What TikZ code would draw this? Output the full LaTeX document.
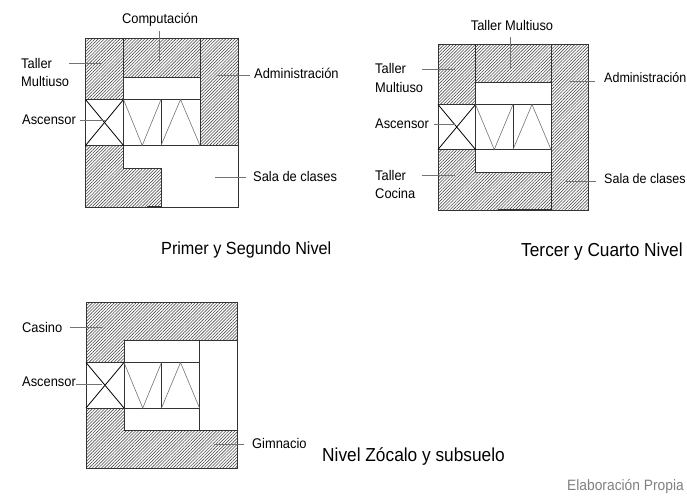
\documentclass[tikz,border=0pt]{standalone}
\usepackage{fontspec}
\setmainfont[FakeStretch=0.92]{Liberation Sans}
\usetikzlibrary{patterns.meta}
\tikzset{
  wall/.style={draw=black!80,line width=.9pt},
  hatched/.style={wall,pattern={Lines[angle=45,distance=2.2pt,line width=.6pt]},pattern color=black!70},
  ramp/.style={draw=black!55,line width=.6pt},
  cross/.style={draw=black,line width=.8pt},
  leader/.style={draw=black!55,line width=.8pt},
  lab/.style={inner sep=0pt,anchor=west,align=left,font=\fontsize{14}{18.5}\selectfont},
  labb/.style={lab,font=\fontsize{13.6}{18.5}\selectfont},
  labc/.style={inner sep=0pt,anchor=center,font=\fontsize{14}{14}\selectfont},
  captxt/.style={inner sep=0pt,anchor=west,font=\fontsize{17.6}{18}\selectfont},
  captxtb/.style={inner sep=0pt,anchor=west,font=\fontsize{18.8}{18}\selectfont},
  srctxt/.style={inner sep=0pt,anchor=east,text=black!50,font=\fontsize{15}{18}\selectfont},
}
\newcommand{\corebox}[6]{%
  \draw[wall] (#1,#5) rectangle (#4,#6);
  \draw[wall] (#2,#5) -- (#2,#6) (#3,#5) -- (#3,#6);
  \draw[cross] (#1,#5) -- (#2,#6) (#1,#6) -- (#2,#5);
  \draw[ramp] (#2,#5) -- ({(#2+#3)/2},#6) -- (#3,#5);
  \draw[ramp] (#3,#6) -- ({(#3+#4)/2},#5) -- (#4,#6);
}
\begin{document}
\begin{tikzpicture}[x=1pt,y=-1pt]
\useasboundingbox (0,0) rectangle (687,498);
% Primer y Segundo Nivel
\draw[wall,fill=white] (85.5,145.5) rectangle (238.5,207);
\draw[wall] (123.5,99.5) rectangle (200,77);
\path[hatched] (85.5,38.5) rectangle (123.5,99.5);
\path[hatched] (123.5,38.5) rectangle (200,77);
\path[hatched] (200,38.5) rectangle (238.5,145.5);
\path[hatched] (85.5,145.5) -- (123.5,145.5) -- (123.5,168.5) -- (161,168.5) -- (161,207) -- (85.5,207) -- cycle;
\draw[wall] (123.5,38.5) -- (123.5,99.5) (200,38.5) -- (200,145.5) (123.5,77) -- (200,77);
\corebox{85.5}{123.5}{161}{200}{99.5}{145.5}
\draw[line width=1.1pt,black!80] (147,207) -- (161,207);
\node[labc] (c1) at (160,19.5) {Computación};
\node[lab] (t1) at (21,72.5) {Taller\\Multiuso};
\node[lab] (ad1) at (254,73) {Administración};
\node[lab] (as1) at (22,120) {Ascensor};
\node[lab] (s1) at (253,176) {Sala de clases};
\coordinate (c1e) at (159,62);
\coordinate (t1s) at (69,63);
\coordinate (t1e) at (102,63);
\coordinate (ad1s) at (250,75.5);
\coordinate (ad1e) at (218,75.5);
\coordinate (as1e) at (105,120);
\coordinate (s1s) at (246,177);
\coordinate (s1e) at (215,177);
\draw[leader] (c1e |- c1.south) ++(0,5) -- (c1e);
\draw[leader] (t1s) -- (t1e);
\draw[leader] (ad1s) -- (ad1e);
\draw[leader] (as1.east) ++(4,0) -- (as1e);
\draw[leader] (s1s) -- (s1e);
\node[captxt] (n1) at (161,249.5) {Primer y Segundo Nivel};
% Tercer y Cuarto Nivel
\draw[wall] (475.5,104.5) rectangle (551,172);
\path[hatched] (438,44.5) rectangle (475.5,104.5);
\path[hatched] (475.5,44.5) rectangle (551,82);
\path[hatched] (551,44.5) rectangle (588,210);
\path[hatched] (438,149.5) -- (475.5,149.5) -- (475.5,172) -- (551,172) -- (551,210) -- (438,210) -- cycle;
\draw[wall] (475.5,44.5) -- (475.5,104.5) (551,44.5) -- (551,210) (475.5,82) -- (551,82) (475.5,149.5) -- (475.5,172) -- (551,172);
\corebox{438}{475.5}{513}{551}{104.5}{149.5}
\draw[line width=1.1pt,black!80] (498,210) -- (551,210);
\node[labc] (c2) at (512,25) {Taller Multiuso};
\node[lab] (t2) at (375,78) {Taller\\Multiuso};
\node[labb] (ad2) at (604,78) {Administración};
\node[lab] (as2) at (375,124) {Ascensor};
\node[lab] (k2) at (375,184.5) {Taller\\Cocina};
\node[labb] (s2) at (604,179) {Sala de clases};
\coordinate (c2s) at (510,37);
\coordinate (c2e) at (510,68);
\coordinate (t2s) at (422,69);
\coordinate (t2e) at (455,69);
\coordinate (ad2s) at (595,81);
\coordinate (ad2e) at (570,81);
\coordinate (as2s) at (434,124);
\coordinate (as2e) at (455,124);
\coordinate (k2s) at (422,175);
\coordinate (k2e) at (455,175);
\coordinate (s2s) at (596,181);
\coordinate (s2e) at (565,181);
\foreach \a/\b in {c2s/c2e,t2s/t2e,ad2s/ad2e,as2s/as2e,k2s/k2e,s2s/s2e}{\draw[leader] (\a) -- (\b);}
\node[captxtb] (n2) at (521,252) {Tercer y Cuarto Nivel};
% Nivel Zocalo y subsuelo
\draw[wall] (124,340) rectangle (199.5,430.5);
\draw[wall] (199.5,340) rectangle (237,430.5);
\path[hatched] (86,302) -- (237,302) -- (237,340) -- (124,340) -- (124,362.5) -- (86,362.5) -- cycle;
\path[hatched] (86,408) -- (124,408) -- (124,430.5) -- (237,430.5) -- (237,468) -- (86,468) -- cycle;
\corebox{86}{124}{161.5}{199.5}{362.5}{408}
\node[lab] (ca3) at (22,327) {Casino};
\node[lab] (as3) at (22,382) {Ascensor};
\node[lab] (g3) at (252,443) {Gimnacio};
\coordinate (ca3s) at (70,327);
\coordinate (ca3e) at (103,327);
\coordinate (as3s) at (76,384);
\coordinate (as3e) at (102,384);
\coordinate (g3s) at (244,444);
\coordinate (g3e) at (214,444);
\foreach \a/\b in {ca3s/ca3e,as3s/as3e,g3s/g3e}{\draw[leader] (\a) -- (\b);}
\node[captxtb] (n3) at (322,457) {Nivel Zócalo y subsuelo};
\node[srctxt] (src) at (684,486.5) {Elaboración Propia};
\end{tikzpicture}
\end{document}
